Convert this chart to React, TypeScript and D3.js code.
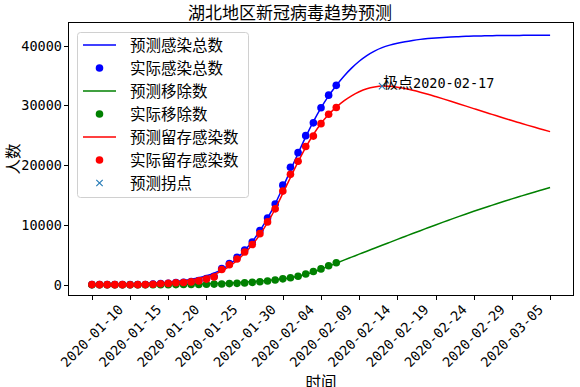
import React from 'react';
import * as d3 from 'd3';

// ---- data ----
const xTickDays = [0, 5, 10, 15, 20, 25, 30, 35, 40, 45, 50, 55, 60];
const xTickLabels = [
  '2020-01-10', '2020-01-15', '2020-01-20', '2020-01-25', '2020-01-30', '2020-02-04',
  '2020-02-09', '2020-02-14', '2020-02-19', '2020-02-24', '2020-02-29', '2020-03-05', '',
];
const yTicks = [0, 10000, 20000, 30000, 40000];

// actual, 2020-01-10 .. 2020-02-11
const actualTotal = [41, 41, 41, 41, 41, 41, 45, 62, 121, 198, 270, 375, 444, 549, 729, 1052, 1423, 2714, 3554, 4586, 5806, 7153, 9074, 11177, 13522, 16678, 19665, 22112, 24953, 27100, 29631, 31728, 33366];
const actualRemoved = [3, 8, 8, 8, 13, 14, 17, 21, 27, 28, 31, 37, 45, 55, 71, 94, 120, 147, 205, 252, 320, 415, 509, 645, 810, 999, 1182, 1435, 1814, 2219, 2666, 3196, 3707];
const actualInfected = [38, 33, 33, 33, 28, 27, 28, 41, 94, 170, 239, 338, 399, 494, 658, 958, 1303, 2567, 3349, 4334, 5486, 6738, 8565, 10532, 12712, 15679, 18483, 20677, 23139, 24881, 26965, 28532, 29659];

// predicted, 2020-01-10 .. 2020-03-10
const predTotal = [40, 52, 66, 84, 107, 136, 172, 217, 273, 340, 420, 550, 720, 930, 1190, 1520, 1960, 2580, 3400, 4450, 5750, 7250, 9050, 11150, 13550, 16300, 19150, 22000, 24750, 27300, 29600, 31600, 33350, 34900, 36250, 37400, 38350, 39100, 39680, 40100, 40420, 40680, 40890, 41060, 41190, 41300, 41390, 41460, 41520, 41570, 41610, 41645, 41670, 41690, 41705, 41718, 41728, 41737, 41745, 41752, 41758];
const predRemoved = [5, 7, 9, 12, 15, 19, 24, 30, 38, 48, 60, 75, 93, 115, 142, 175, 215, 262, 318, 385, 460, 545, 640, 745, 860, 1010, 1190, 1440, 1760, 2150, 2600, 3100, 3620, 4130, 4630, 5130, 5630, 6125, 6620, 7110, 7600, 8090, 8580, 9060, 9540, 10020, 10490, 10950, 11410, 11860, 12300, 12730, 13150, 13570, 13980, 14380, 14770, 15160, 15540, 15910, 16280];
const predInfected = [35, 45, 57, 72, 92, 117, 148, 187, 235, 292, 360, 475, 627, 815, 1048, 1345, 1745, 2318, 3082, 4065, 5290, 6705, 8410, 10405, 12690, 15290, 17960, 20560, 22990, 25150, 27000, 28500, 29730, 30770, 31620, 32300, 32800, 33100, 33250, 33200, 33050, 32830, 32550, 32230, 31880, 31500, 31110, 30710, 30300, 29890, 29480, 29070, 28670, 28270, 27870, 27480, 27100, 26720, 26350, 25990, 25630];

const peakDay = 38;
const peakValue = 33250;
const peakLabelCn = '极点';
const peakLabelDate = '2020-02-17';

const legendItems = [
  { label: '预测感染总数', kind: 'line', color: '#0000ff' },
  { label: '实际感染总数', kind: 'dot', color: '#0000ff' },
  { label: '预测移除数', kind: 'line', color: '#008000' },
  { label: '实际移除数', kind: 'dot', color: '#008000' },
  { label: '预测留存感染数', kind: 'line', color: '#ff0000' },
  { label: '实际留存感染数', kind: 'dot', color: '#ff0000' },
  { label: '预测拐点', kind: 'x', color: '#1f77b4' },
];

const title = '湖北地区新冠病毒趋势预测';
const yLabel = '人数';
const xLabel = '时间';

// ---- layout ----
const W = 580, H = 387;
const L = 69, R = 573, T = 23, B = 295;
const CJK = '"Noto Sans CJK SC", sans-serif';
const MONO = '"DejaVu Sans Mono", monospace';

export default function App() {
  const x = d3.scaleLinear().domain([-3, 63]).range([L, R]);
  const y = d3.scaleLinear().domain([-1700, 43800]).range([B, T]);
  const line = d3.line<number>().x((_, i) => x(i)).y((d) => y(d)).curve(d3.curveMonotoneX);

  const dots = (arr: number[], color: string) =>
    arr.map((v, i) => <circle key={i} cx={x(i)} cy={y(v)} r={3.8} fill={color} />);

  const px = x(peakDay), py = y(peakValue);
  const xm = 3.2;

  const lgX = 77, lgY = 32, lgW = 171, lgH = 165;
  const rowY0 = 45, rowH = 23;

  return (
    <svg width={W} height={H} style={{ position: 'absolute', left: 0, top: 0, background: '#fff' }}>
      <rect x={0} y={0} width={W} height={H} fill="#fff" />
      <text x={290} y={19} textAnchor="middle" fontFamily={CJK} fontSize={17} fill="#000">{title}</text>

      {/* series */}
      <path d={line(predTotal) || ''} fill="none" stroke="#0000ff" strokeWidth={1.5} />
      {dots(actualTotal, '#0000ff')}
      <path d={line(predRemoved) || ''} fill="none" stroke="#008000" strokeWidth={1.5} />
      {dots(actualRemoved, '#008000')}
      <path d={line(predInfected) || ''} fill="none" stroke="#ff0000" strokeWidth={1.5} />
      {dots(actualInfected, '#ff0000')}
      <g stroke="#1f77b4" strokeWidth={1.1}>
        <line x1={px - xm} y1={py - xm} x2={px + xm} y2={py + xm} />
        <line x1={px - xm} y1={py + xm} x2={px + xm} y2={py - xm} />
      </g>
      <text x={px + 1} y={py + 2} fill="#000">
        <tspan fontFamily={CJK} fontSize={15}>{peakLabelCn}</tspan>
        <tspan fontFamily={MONO} fontSize={13.5}>{peakLabelDate}</tspan>
      </text>

      {/* frame */}
      <rect x={L - 0.5} y={T - 0.5} width={R - L + 1} height={B - T + 1} fill="none" stroke="#000" strokeWidth={1} />

      {/* y axis */}
      {yTicks.map((t) => (
        <g key={t}>
          <line x1={L - 5} x2={L} y1={Math.round(y(t)) + 0.5} y2={Math.round(y(t)) + 0.5} stroke="#000" />
          <text x={L - 7} y={y(t)} dy="0.36em" textAnchor="end" fontFamily={MONO} fontSize={13.5} fill="#000">{t}</text>
        </g>
      ))}
      <text transform={`translate(14, ${(T + B) / 2}) rotate(-90)`} textAnchor="middle" dy="0.35em" fontFamily={CJK} fontSize={15.5} fill="#000">{yLabel}</text>

      {/* x axis */}
      {xTickDays.map((d, i) => (
        <g key={d}>
          <line x1={Math.round(x(d)) + 0.5} x2={Math.round(x(d)) + 0.5} y1={B} y2={B + 5} stroke="#000" />
          {xTickLabels[i] && (
            <text transform={`translate(${x(d)}, ${B + 41}) rotate(-45)`} textAnchor="middle" dy="0.35em" fontFamily={MONO} fontSize={13.5} fill="#000">{xTickLabels[i]}</text>
          )}
        </g>
      ))}
      <text x={(L + R) / 2} y={388} textAnchor="middle" fontFamily={CJK} fontSize={15.5} fill="#000">{xLabel}</text>

      {/* legend */}
      <rect x={lgX + 0.5} y={lgY + 0.5} width={lgW} height={lgH} rx={3} fill="#fff" fillOpacity={0.8} stroke="#d0d0d0" />
      {legendItems.map((it, i) => {
        const cy = rowY0 + i * rowH;
        return (
          <g key={it.label}>
            {it.kind === 'line' && <line x1={83} x2={116} y1={cy} y2={cy} stroke={it.color} strokeWidth={1.5} />}
            {it.kind === 'dot' && <circle cx={99.5} cy={cy} r={3.8} fill={it.color} />}
            {it.kind === 'x' && (
              <g stroke={it.color} strokeWidth={1.1}>
                <line x1={99.5 - xm} y1={cy - xm} x2={99.5 + xm} y2={cy + xm} />
                <line x1={99.5 - xm} y1={cy + xm} x2={99.5 + xm} y2={cy - xm} />
              </g>
            )}
            <text x={130} y={cy} dy="0.36em" fontFamily={CJK} fontSize={15.5} fill="#000">{it.label}</text>
          </g>
        );
      })}
    </svg>
  );
}
